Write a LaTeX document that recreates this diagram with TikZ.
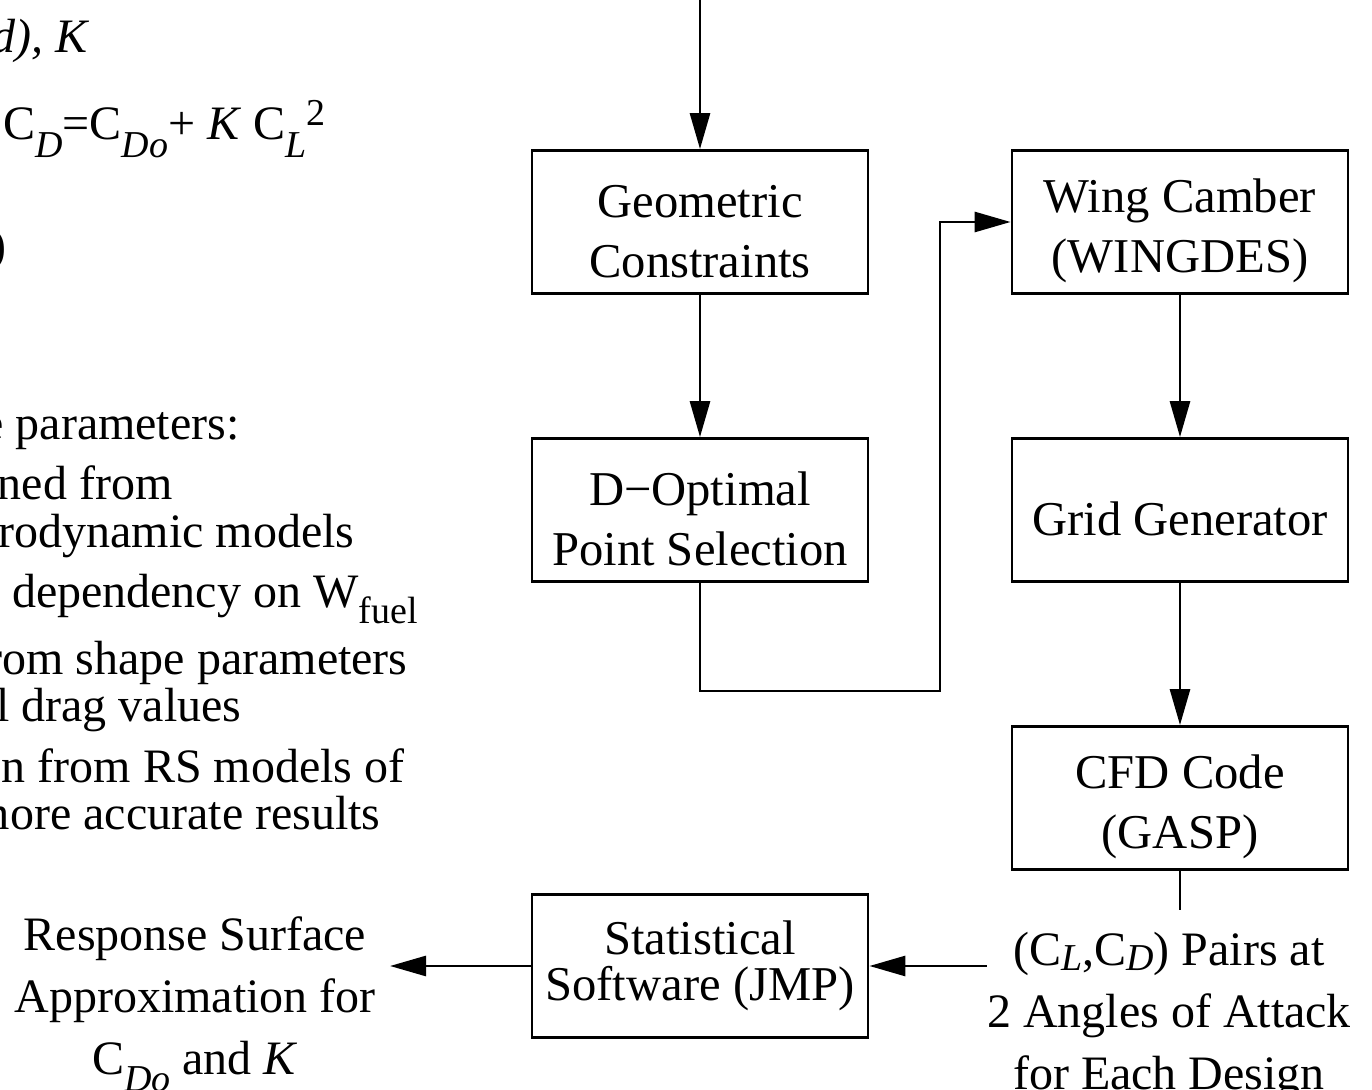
\documentclass[tikz,border=0pt]{standalone}
\usepackage{fontspec}
\setmainfont{Liberation Serif}
\usetikzlibrary{positioning, arrows.meta}

\newcommand{\lowtxt}[2][9pt]{\raisebox{-#1}{\fontsize{19}{19}\selectfont #2}}
\newcommand{\hightxt}[2][7pt]{\raisebox{#1}{\fontsize{19}{19}\selectfont #2}}
\newcommand{\topgap}{\rule{0pt}{26pt}}

\tikzstyle{procBox} = [
    rectangle,
    draw,
    line width=1.4pt,
    align=center,
    minimum width=168pt,
    minimum height=71.5pt,
    inner sep=0pt,
    font=\fontsize{24.3}{30}\selectfont
    ]
\tikzstyle{plainLabel} = [
    align=center,
    inner xsep=0pt,
    inner ysep=11pt,
    font=\fontsize{24}{31}\selectfont
    ]
\tikzstyle{noteText} = [
    anchor=base east,
    inner sep=0pt,
    font=\fontsize{24}{24}\selectfont
    ]
\tikzstyle{flowArrow} = [
    line width=1.4pt,
    -{Triangle[length=18pt,width=10pt]}
    ]
\tikzstyle{flowLine} = [line width=1.4pt]

\begin{document}
\begin{tikzpicture}[x=0.5pt,y=-0.5pt]
      \useasboundingbox (0,0) rectangle (1372,1090);
      \clip (0,0) rectangle (1372,1090);
      % notes on the left, cut by the page edge
      \node[noteText] at (90,53) (noteA) {\textit{d), K}};
      \node[noteText, anchor=base west] at (3,140) (noteB) {C\lowtxt{\textit{D}}=C\lowtxt{\textit{Do}}+ \textit{K} C\lowtxt{\textit{L}}\hightxt{2}};
      \node[noteText] at (7,262) (noteC) {)};
      \node[noteText] at (240,440) (noteD) {e parameters:};
      \node[noteText] at (173,500) (noteE) {ned from};
      \node[noteText] at (355,548) (noteF) {rodynamic models};
      \node[noteText] at (418,608) (noteG) {a dependency on W\lowtxt[8pt]{fuel}};
      \node[noteText] at (408,675) (noteH) {rom shape parameters};
      \node[noteText] at (242,722) (noteI) {l drag values};
      \node[noteText] at (405,783) (noteJ) {n from RS models of};
      \node[noteText] at (381,830) (noteK) {more accurate results};
      % process boxes
      \node[procBox] at (700,222) (geom) {\topgap Geometric\\Constraints};
      \node[procBox] at (700,510) (dopt) {\topgap D\textminus Optimal\\Point Selection};
      \node[procBox] at (1180,222) (wing) {\topgap Wing Camber\\(WINGDES)};
      \node[procBox] at (1180,510) (grid) {\topgap Grid Generator};
      \node[procBox] at (1180,798) (cfd) {\topgap CFD Code\\(GASP)};
      \node[procBox, font=\fontsize{24.3}{23}\selectfont] at (700,966) (stat) {Statistical\\Software (JMP)};
      \node[plainLabel] at (1169,1016) (pairs) {(C\lowtxt[2.5pt]{\textit{L}},C\lowtxt[2.5pt]{\textit{D}}) Pairs at\\2 Angles of Attack\\for Each Design};
      \node[plainLabel, inner xsep=7pt] at (195,1004) (resp) {Response Surface\\Approximation for\\C\lowtxt[8.5pt]{\textit{Do}} and \textit{K}};
      \coordinate (topIn) at (700,0);
      \coordinate (bendLow) at (940,691);
      % connectors
      \draw[flowArrow] (topIn) -- (geom);
      \draw[flowArrow] (geom) -- (dopt);
      \draw[flowArrow] (dopt.south) |- (bendLow) |- (wing.west);
      \draw[flowArrow] (wing) -- (grid);
      \draw[flowArrow] (grid) -- (cfd);
      \draw[flowLine] (cfd.south) -- (cfd.south |- pairs.north);
      \draw[flowArrow] (pairs.west |- stat) -- (stat);
      \draw[flowArrow] (stat) -- (stat -| resp.east);
    \end{tikzpicture}
\end{document}
